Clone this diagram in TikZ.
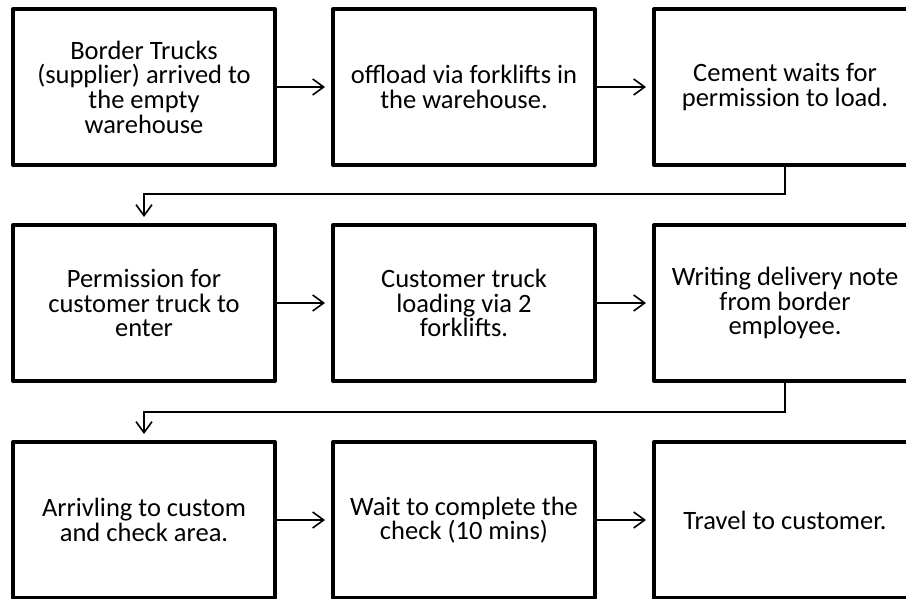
\documentclass[tikz,border=0pt]{standalone}
\usepackage{fontspec}
\setmainfont{Carlito}
\usetikzlibrary{arrows.meta}
\tikzset{
  stepbox/.style={draw=black, line width=4pt, fill=white, line join=round,
    minimum width=262pt, minimum height=156pt, inner sep=0pt,
    align=center, font=\fontsize{26.5}{24.7}\selectfont},
  flow/.style={draw=black, line width=1.6pt,
    -{Straight Barb[length=11pt,width=16pt,line width=1.6pt]}, shorten >=6pt}
}
\begin{document}
\begin{tikzpicture}[x=1pt,y=-1pt]
\clip (0,0) rectangle (906,599);
\fill[white] (0,0) rectangle (906,599);

% row 1
\node[stepbox] (b1) at (144,87) {Border Trucks\\(supplier) arrived to\\the empty\\warehouse};
\node[stepbox] (b2) at (464,87) {offload via forklifts in\\the warehouse.};
\node[stepbox] (b3) at (785,87) {Cement waits for\\permission to load.};
% row 2
\node[stepbox] (b4) at (144,303) {Permission for\\customer truck to\\enter};
\node[stepbox] (b5) at (464,303) {Customer truck\\loading via 2\\forklifts.};
\node[stepbox] (b6) at (785,303) {Writing delivery note\\from border\\employee.};
% row 3
\node[stepbox] (b7) at (144,520) {Arrivling to custom\\and check area.};
\node[stepbox] (b8) at (464,520) {Wait to complete the\\check (10 mins)};
\node[stepbox] (b9) at (785,520) {Travel to customer.};

% connectors
\draw[flow] (b1) -- (b2);
\draw[flow] (b2) -- (b3);
\draw[flow] (b3.south) -- ++(0,27) -| (b4.north);
\draw[flow] (b4) -- (b5);
\draw[flow] (b5) -- (b6);
\draw[flow] (b6.south) -- ++(0,29) -| (b7.north);
\draw[flow] (b7) -- (b8);
\draw[flow] (b8) -- (b9);
\end{tikzpicture}
\end{document}
